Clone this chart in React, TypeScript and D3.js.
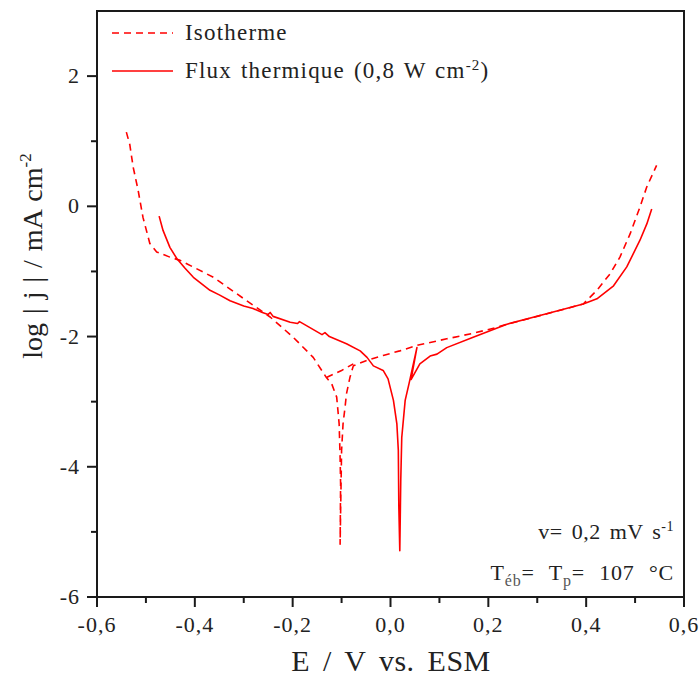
import React from "react";
import * as d3 from "d3";

// Isotherme (dashed) : [E (V vs ESM), log|j| (mA cm-2)]
const isothermeSweep: [number, number][] = [
  [-0.540, 1.14], [-0.533, 0.95], [-0.526, 0.60], [-0.516, 0.25], [-0.506, -0.17],
  [-0.492, -0.57], [-0.478, -0.70], [-0.451, -0.78], [-0.430, -0.83], [-0.362, -1.09],
  [-0.294, -1.45], [-0.246, -1.70], [-0.199, -2.01], [-0.158, -2.32], [-0.131, -2.63],
  [-0.120, -2.73], [-0.110, -2.93], [-0.105, -3.34], [-0.103, -3.86], [-0.102, -4.27],
  [-0.103, -5.19], [-0.100, -3.75], [-0.097, -3.34], [-0.093, -3.09], [-0.090, -2.88],
  [-0.083, -2.63], [-0.076, -2.45], [-0.050, -2.37], [-0.015, -2.29], [0.019, -2.22],
  [0.057, -2.13], [0.115, -2.035], [0.169, -1.95], [0.217, -1.86], [0.238, -1.81],
  [0.320, -1.65], [0.394, -1.50], [0.422, -1.29], [0.449, -1.035], [0.469, -0.78],
  [0.490, -0.42], [0.510, -0.01], [0.524, 0.30], [0.544, 0.63],
];
const isothermeLoop: [number, number][] = [
  [-0.131, -2.63], [-0.100, -2.52], [-0.076, -2.42],
];

// Flux thermique 0,8 W cm-2 (solid)
const fluxThermique: [number, number][] = [
  [-0.473, -0.15], [-0.465, -0.37], [-0.458, -0.50], [-0.451, -0.63], [-0.437, -0.80],
  [-0.420, -0.95], [-0.403, -1.09], [-0.369, -1.29], [-0.350, -1.36], [-0.328, -1.45],
  [-0.300, -1.53], [-0.281, -1.57], [-0.262, -1.63], [-0.250, -1.66], [-0.246, -1.63],
  [-0.240, -1.69], [-0.205, -1.78], [-0.190, -1.80], [-0.186, -1.77], [-0.170, -1.84],
  [-0.140, -1.97], [-0.134, -1.94], [-0.125, -2.00], [-0.090, -2.11], [-0.062, -2.22],
  [-0.048, -2.32], [-0.035, -2.45], [-0.015, -2.52], [-0.005, -2.65], [0.006, -2.98],
  [0.013, -3.34], [0.016, -3.75], [0.017, -4.60], [0.019, -5.29], [0.021, -4.20],
  [0.023, -3.55], [0.030, -2.98], [0.038, -2.72], [0.054, -2.17], [0.042, -2.66],
  [0.060, -2.42], [0.081, -2.30], [0.095, -2.27], [0.115, -2.17], [0.169, -2.01],
  [0.238, -1.81], [0.319, -1.65], [0.394, -1.50], [0.422, -1.42], [0.456, -1.22],
  [0.483, -0.93], [0.510, -0.52], [0.524, -0.27], [0.534, -0.04],
];

const xMajorTicks = [-0.6, -0.4, -0.2, 0.0, 0.2, 0.4, 0.6];
const xMinorTicks = [-0.5, -0.3, -0.1, 0.1, 0.3, 0.5];
const yMajorTicks = [-6, -4, -2, 0, 2];
const yMinorTicks = [-5, -3, -1, 1];

const W = 700;
const H = 682;
const L = 97, R = 684, T = 11, B = 597;
const FONT = "Liberation Serif, DejaVu Serif, serif";
const RED = "#ff0000";
const INK = "#222";

export default function App() {
  const x = d3.scaleLinear().domain([-0.6, 0.6]).range([L, R]);
  const y = d3.scaleLinear().domain([-6, 3]).range([B, T]);
  const line = d3.line<[number, number]>().x((d) => x(d[0])).y((d) => y(d[1]));
  const fmtX = (v: number) => v.toFixed(1).replace(".", ",");
  const ts = { fontFamily: FONT } as React.CSSProperties;

  return (
    <svg width={W} height={H} style={{ position: "absolute", left: 0, top: 0, background: "#fff", fontFamily: FONT }}>
      <rect x={0} y={0} width={W} height={H} fill="#fff" />
      {/* curves */}
      <path d={line(isothermeSweep) || ""} fill="none" stroke={RED} strokeWidth={1.6}
        strokeDasharray="7,5" strokeLinejoin="round" />
      <path d={line(isothermeLoop) || ""} fill="none" stroke={RED} strokeWidth={1.6}
        strokeDasharray="7,5" />
      <path d={line(fluxThermique) || ""} fill="none" stroke={RED} strokeWidth={1.6}
        strokeLinejoin="round" />

      {/* frame */}
      <rect x={L} y={T} width={R - L} height={B - T} fill="none" stroke="#1a1a1a" strokeWidth={2} />

      {/* x ticks */}
      {xMajorTicks.map((v) => (
        <g key={"xm" + v}>
          <line x1={x(v)} x2={x(v)} y1={B} y2={B + 10} stroke="#1a1a1a" strokeWidth={2} />
          <text style={ts} x={x(v)} y={632} fontSize={22} letterSpacing={1} textAnchor="middle" fill={INK}>{fmtX(v)}</text>
        </g>
      ))}
      {xMinorTicks.map((v) => (
        <line key={"xn" + v} x1={x(v)} x2={x(v)} y1={B} y2={B + 6} stroke="#1a1a1a" strokeWidth={2} />
      ))}
      {/* y ticks */}
      {yMajorTicks.map((v) => (
        <g key={"ym" + v}>
          <line x1={L - 10} x2={L} y1={y(v)} y2={y(v)} stroke="#1a1a1a" strokeWidth={2} />
          <text style={ts} x={80} y={y(v) + 7} fontSize={22} letterSpacing={1} textAnchor="end" fill={INK}>{String(v)}</text>
        </g>
      ))}
      {yMinorTicks.map((v) => (
        <line key={"yn" + v} x1={L - 6} x2={L} y1={y(v)} y2={y(v)} stroke="#1a1a1a" strokeWidth={2} />
      ))}

      {/* axis titles */}
      <text style={ts} x={391} y={671} fontSize={30} textAnchor="middle" fill={INK} wordSpacing={5} letterSpacing={0.5}>
        E / V vs. ESM
      </text>
      <text style={ts} transform="translate(42,256) rotate(-90)" fontSize={28} textAnchor="middle" fill={INK}
        wordSpacing={2}>
        log | j | / mA cm<tspan fontSize={17} dy={-11}>-2</tspan>
      </text>

      {/* legend */}
      <line x1={112} x2={173} y1={33} y2={33} stroke={RED} strokeWidth={1.6} strokeDasharray="7,5" />
      <text style={ts} x={185} y={40} fontSize={23} letterSpacing={1.2} fill={INK}>Isotherme</text>
      <line x1={112} x2={173} y1={71} y2={71} stroke={RED} strokeWidth={1.6} />
      <text style={ts} x={185} y={78} fontSize={23} letterSpacing={1.2} fill={INK} wordSpacing={2}>
        Flux thermique (0,8 W cm<tspan fontSize={15} dy={-8}>-2</tspan><tspan dy={8}>)</tspan>
      </text>

      {/* annotations */}
      <text style={ts} x={674} y={539} fontSize={22} letterSpacing={0.5} textAnchor="end" fill={INK} wordSpacing={3}>
        v= 0,2 mV s<tspan fontSize={14} dy={-8}>-1</tspan>
      </text>
      <text style={ts} x={674} y={580} fontSize={22} letterSpacing={0.8} textAnchor="end" fill={INK} wordSpacing={8}>
        T<tspan fontSize={16} dy={6} fill="#555">éb</tspan><tspan dy={-6}>= T</tspan><tspan fontSize={16} dy={6} fill="#555">p</tspan><tspan dy={-6}>= 107 °C</tspan>
      </text>
    </svg>
  );
}
